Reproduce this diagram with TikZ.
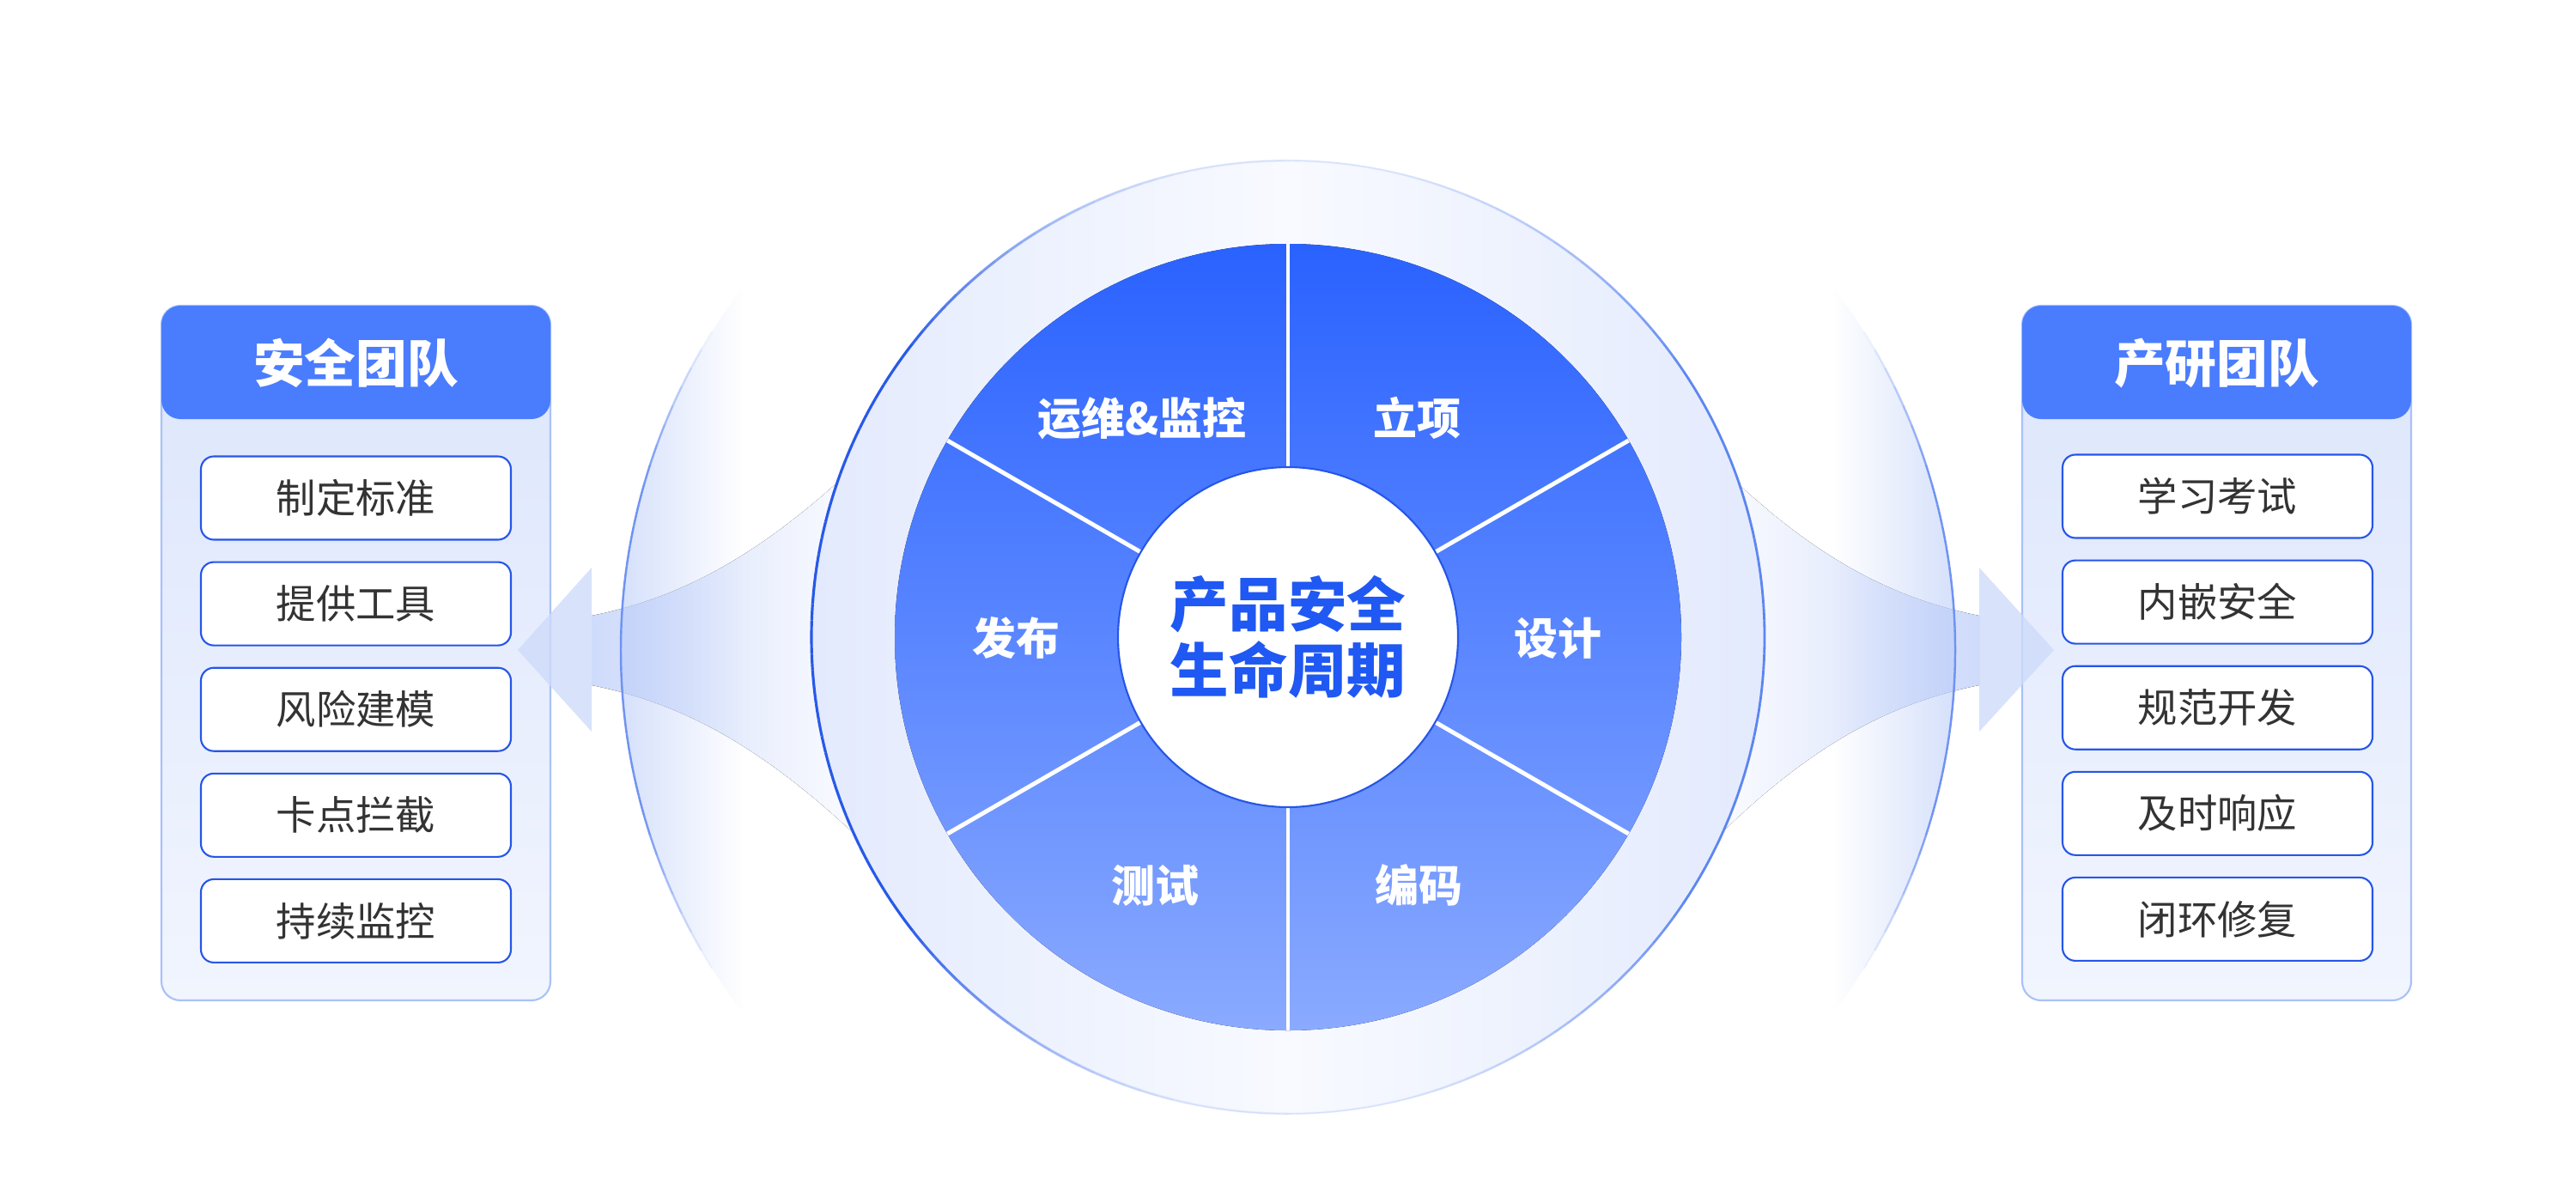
\documentclass[tikz,border=0pt]{standalone}
\usepackage{fontspec}
\setmainfont{Noto Sans CJK SC}
\usetikzlibrary{fadings}
\definecolor{hdr}{HTML}{4A7CFE}
\definecolor{bodytop}{HTML}{DCE5FC}
\definecolor{bodybot}{HTML}{F1F5FE}
\definecolor{bodyline}{HTML}{A9C1F8}
\definecolor{itemline}{HTML}{2656E8}
\definecolor{itemtext}{HTML}{333333}
\definecolor{pietop}{HTML}{2A62FF}
\definecolor{piebot}{HTML}{8AAAFF}
\definecolor{ctext}{HTML}{1F58F2}
\definecolor{ringedge}{HTML}{E3EAFD}
\definecolor{ringmid}{HTML}{F8FAFF}
\definecolor{lensblue}{HTML}{B8CBF8}
\definecolor{arrowblue}{HTML}{CFDBFB}
\definecolor{ringline}{HTML}{2759E8}
\definecolor{ringline2}{HTML}{5C86F0}
\definecolor{ringfaint}{HTML}{DCE6FD}
\definecolor{lensline}{HTML}{6F93F2}
\tikzfading[name=fadeR, left color=transparent!0, right color=transparent!100]
\tikzfading[name=fadeL, left color=transparent!100, right color=transparent!0]
\tikzset{
  panelbody/.style={draw=bodyline, line width=0.6pt, top color=bodytop, bottom color=bodybot, rounded corners=0.22cm},
  panelhead/.style={fill=hdr, rounded corners=0.22cm},
  headtext/.style={text=white, font=\fontsize{17}{20}\selectfont\bfseries},
  itembox/.style={draw=itemline, fill=white, line width=0.6pt, rounded corners=0.15cm, minimum width=3.61cm, minimum height=0.97cm, text=itemtext, font=\fontsize{13.2}{16}\selectfont, inner sep=0pt},
  pielabel/.style={text=white, font=\fontsize{14.5}{17}\selectfont\bfseries},
  arrowhead/.style={fill=arrowblue, opacity=0.8},
}
\begin{document}
\begin{tikzpicture}
\useasboundingbox (0,0) rectangle (30,-14);
\fill[white] (0,0) rectangle (30,-14);

% trumpets
\fill[left color=arrowblue, right color=white] (6.89,-7.17) .. controls (8.0,-6.95) and (9.0,-6.40) .. (10.3,-5.10) -- (10.3,-10.05) .. controls (9.0,-8.75) and (8.0,-8.20) .. (6.89,-7.98) -- cycle;
\fill[left color=white, right color=arrowblue] (23.05,-7.17) .. controls (21.94,-6.95) and (20.94,-6.40) .. (19.70,-5.10) -- (19.70,-10.05) .. controls (20.94,-8.75) and (21.94,-8.20) .. (23.05,-7.98) -- cycle;

% lenses
\begin{scope}
  \clip (14.23,-7.57) circle (7);
  \fill[lensblue, fill opacity=0.6, path fading=fadeR] (7.2,-3.3) rectangle (8.65,-11.85);
\end{scope}
\begin{scope}
  \clip (15.77,-7.57) circle (7);
  \fill[lensblue, fill opacity=0.6, path fading=fadeL] (21.35,-3.3) rectangle (22.8,-11.85);
\end{scope}
\foreach \a in {148,150,...,210} {
  \pgfmathsetmacro\op{min(1,max(0,(32-abs(\a+1-180))/16))}
  \draw[lensline, line width=0.7pt, draw opacity=\op] (14.23,-7.57) ++(\a:7) arc (\a:\a+2:7);
}
\foreach \a in {-32,-30,...,30} {
  \pgfmathsetmacro\op{min(1,max(0,(32-abs(\a+1))/16))}
  \draw[lensline, line width=0.7pt, draw opacity=\op] (15.77,-7.57) ++(\a:7) arc (\a:\a+2:7);
}

% ring
\fill[left color=ringedge, right color=ringedge, middle color=ringmid] (15,-7.42) circle (5.55);
\draw[ringfaint, line width=0.4pt] (15,-7.42) circle (5.55);
\foreach \a in {90,92,...,268} {
  \pgfmathsetmacro\op{min(1,max(0.05,(1-abs(sin(\a+1)))*2.5))}
  \draw[ringline, line width=0.9pt, draw opacity=\op] (15,-7.42) ++(\a:5.55) arc (\a:\a+2:5.55);
}
\foreach \a in {-90,-88,...,88} {
  \pgfmathsetmacro\op{min(1,max(0.05,(1-abs(sin(\a+1)))*2.2))}
  \draw[ringline2, line width=0.8pt, draw opacity=\op] (15,-7.42) ++(\a:5.55) arc (\a:\a+2:5.55);
}

% pie
\fill[top color=pietop, bottom color=piebot] (15,-7.42) circle (4.58);
\foreach \a in {90,30,-30,-90,-150,150}
  \draw[white, line width=1.4pt] (15,-7.42) ++(\a:1.9) -- ++(\a:2.68);
\node[circle, fill=white, draw=itemline, line width=0.6pt, minimum size=3.96cm, inner sep=0pt,
      text=ctext, font=\fontsize{19.5}{22}\selectfont\bfseries, align=center] (core) at (15,-7.42) {产品安全\\生命周期};

\node[pielabel] (s1) at (16.50,-4.87) {立项};
\node[pielabel] (s2) at (18.14,-7.43) {设计};
\node[pielabel] (s3) at (16.52,-10.31) {编码};
\node[pielabel] (s4) at (13.45,-10.31) {测试};
\node[pielabel] (s5) at (11.83,-7.43) {发布};
\node[pielabel] (s6) at (13.30,-4.87) {运维\&监控};

% left panel
\draw[panelbody] (1.88,-3.56) rectangle (6.41,-11.65);
\fill[arrowhead] (6.03,-7.57) -- (6.89,-6.61) -- (6.89,-8.52) -- cycle;
\fill[panelhead] (1.88,-3.56) rectangle (6.41,-4.88);
\node[headtext] (hL) at (4.145,-4.23) {安全团队};
\node[itembox] (l1) at (4.145,-5.80) {制定标准};
\node[itembox] (l2) at (4.145,-7.031) {提供工具};
\node[itembox] (l3) at (4.145,-8.262) {风险建模};
\node[itembox] (l4) at (4.145,-9.493) {卡点拦截};
\node[itembox] (l5) at (4.145,-10.724) {持续监控};

% right panel
\draw[panelbody] (23.55,-3.56) rectangle (28.08,-11.65);
\fill[arrowhead] (23.92,-7.57) -- (23.05,-6.61) -- (23.05,-8.52) -- cycle;
\fill[panelhead] (23.55,-3.56) rectangle (28.08,-4.88);
\node[headtext] (hR) at (25.815,-4.23) {产研团队};
\node[itembox] (r1) at (25.825,-5.78) {学习考试};
\node[itembox] (r2) at (25.825,-7.011) {内嵌安全};
\node[itembox] (r3) at (25.825,-8.242) {规范开发};
\node[itembox] (r4) at (25.825,-9.473) {及时响应};
\node[itembox] (r5) at (25.825,-10.704) {闭环修复};
\end{tikzpicture}
\end{document}
